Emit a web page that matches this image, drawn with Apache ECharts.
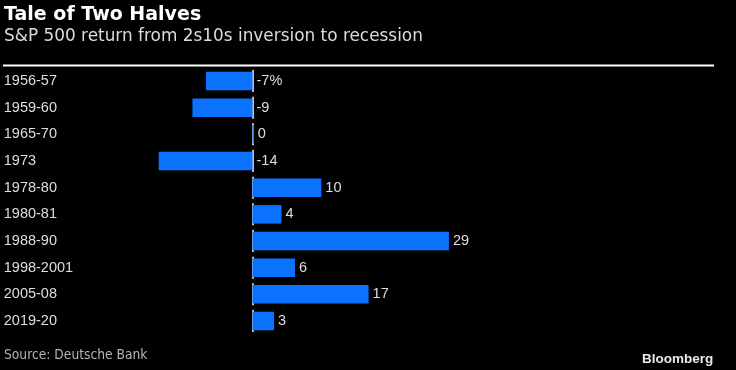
<!DOCTYPE html>
<html><head><meta charset="utf-8">
<script src="https://cdn.jsdelivr.net/npm/echarts@6/dist/echarts.min.js"></script>
<style>html,body{margin:0;padding:0;background:#000;}#c{width:736px;height:370px;}</style>
</head><body><div id="c"></div>
<script>
var categories = ['1956-57','1959-60','1965-70','1973','1978-80','1980-81','1988-90','1998-2001','2005-08','2019-20'];
var returns = [-6.9, -8.9, 0.2, -13.9, 10.2, 4.3, 29.1, 6.3, 17.2, 3.2];
var titleText = 'Tale of Two Halves';
var subtitleText = 'S&P 500 return from 2s10s inversion to recession';
var sourceText = 'Source: Deutsche Bank';

var chart = echarts.init(document.getElementById('c'));
chart.setOption({
  backgroundColor: '#000',
  animation: false,
  title: [
    {text: titleText, left: 4, top: 6, padding: 0, textStyle: {color: '#fff', fontFamily: 'DejaVu Sans', fontWeight: 'bold', fontSize: 19}},
    {text: subtitleText, left: 4, top: 28, padding: 0, textStyle: {color: '#dcdcdc', fontFamily: 'DejaVu Sans', fontWeight: 'normal', fontSize: 16.9}},
    {text: sourceText, left: 4, top: 348, padding: 0, textStyle: {color: '#b4b4b4', fontFamily: "'DejaVu Sans Condensed', 'Liberation Sans'", fontWeight: 'normal', fontSize: 13.7}},
    {text: 'Bloomberg', right: 22.7, top: 352, padding: 0, textStyle: {color: '#e8e8e8', fontFamily: 'Liberation Sans', fontWeight: 'bold', fontSize: 13.5}}
  ],
  graphic: [
    {type: 'line', shape: {x1: 3, y1: 65.5, x2: 714, y2: 65.5}, style: {stroke: '#fff', lineWidth: 2}}
  ],
  grid: {left: 2.75, right: 24.5, top: 67.67, bottom: 35.67, containLabel: false, outerBoundsMode: 'none'},
  xAxis: {type: 'value', min: -37, max: 68, show: false, splitLine: {show: false}},
  yAxis: {
    type: 'category', data: categories, inverse: true,
    axisLine: {show: true, onZero: true, lineStyle: {color: '#fff', width: 1.5, type: [21, 5.67], dashOffset: 23.83}},
    axisTick: {show: false},
    axisLabel: {align: 'left', margin: -1, color: '#dedede', fontFamily: 'Liberation Sans', fontSize: 14.5, hideOverlap: false}
  },
  series: [{
    type: 'bar', data: returns, barWidth: 18.5,
    itemStyle: {color: '#0a72ff'},
    label: {show: true, position: 'right', distance: 4, color: '#dedede', fontFamily: 'Liberation Sans', fontSize: 14.5,
      formatter: function(p){ var v = Math.round(p.value); return p.dataIndex === 0 ? v + '%' : String(v); }}
  }]
});
</script></body></html>
